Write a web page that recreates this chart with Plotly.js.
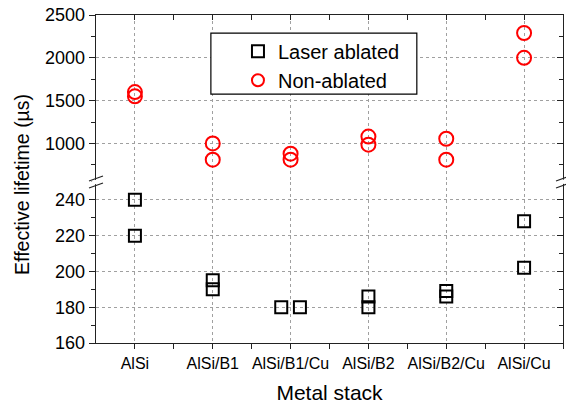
<!DOCTYPE html>
<html>
<head>
<meta charset="utf-8">
<script src="https://cdn.plot.ly/plotly-3.0.1.min.js"></script>
<style>html,body{margin:0;padding:0;background:#fff;}#chart{width:566px;height:405px;}</style>
</head>
<body>
<div id="chart"></div>
<script>
// ---- data ----
const categories = ['AlSi', 'AlSi/B1', 'AlSi/B1/Cu', 'AlSi/B2', 'AlSi/B2/Cu', 'AlSi/Cu'];
const laserCategory = ['AlSi', 'AlSi', 'AlSi/B1', 'AlSi/B1', 'AlSi/B1/Cu', 'AlSi/B1/Cu', 'AlSi/B2', 'AlSi/B2', 'AlSi/B2/Cu', 'AlSi/B2/Cu', 'AlSi/Cu', 'AlSi/Cu'];
const laserShift = [0, 0, 0, 0, -0.12, 0.12, 0, 0, 0, 0, 0, 0];
const laserValues = [240, 220, 195, 190, 180, 180, 186, 180, 189, 186, 228, 202];
const nonCategory = ['AlSi', 'AlSi', 'AlSi/B1', 'AlSi/B1', 'AlSi/B1/Cu', 'AlSi/B1/Cu', 'AlSi/B2', 'AlSi/B2', 'AlSi/B2/Cu', 'AlSi/B2/Cu', 'AlSi/Cu', 'AlSi/Cu'];
const nonValues = [1600, 1550, 1000, 810, 880, 810, 1080, 985, 1055, 810, 2290, 2000];
const lowerTicks = [160, 180, 200, 220, 240];
const upperTicks = [1000, 1500, 2000, 2500];

// ---- build ----
const catIndex = c => categories.indexOf(c);
const laserX = laserCategory.map((c, i) => catIndex(c) + laserShift[i]);
const nonX = nonCategory.map(c => catIndex(c));
const catIdx = categories.map((c, i) => i);
const halfIdx = categories.map((c, i) => i + 0.5);

const FONT = 'Liberation Sans, Arial, sans-serif';
const split = 0.491;
const xRange = [-0.5, 5.5];
const lowRange = [160, 250];
const upRange = [550, 2500];
const gridStyle = {showgrid: true, gridcolor: '#a0a0a0', griddash: 'dot', gridwidth: 1};

const traces = [
  {
    x: laserX, y: laserValues, type: 'scatter', mode: 'markers', name: 'Laser ablated',
    xaxis: 'x', yaxis: 'y',
    marker: {symbol: 'square-open', size: 12, color: '#000', line: {width: 2, color: '#000'}}
  },
  {
    x: nonX, y: nonValues, type: 'scatter', mode: 'markers', name: 'Non-ablated',
    xaxis: 'x', yaxis: 'y2',
    marker: {symbol: 'circle-open', size: 14, color: '#ff0000', line: {width: 2, color: '#ff0000'}}
  },
  // helper traces for mirror axes (no visible marks)
  {x: [], y: [], xaxis: 'x2', yaxis: 'y2', showlegend: false, hoverinfo: 'skip', type: 'scatter'},
  {x: [], y: [], xaxis: 'x', yaxis: 'y3', showlegend: false, hoverinfo: 'skip', type: 'scatter'},
  {x: [], y: [], xaxis: 'x', yaxis: 'y4', showlegend: false, hoverinfo: 'skip', type: 'scatter'}
];

const axLine = {showline: true, linecolor: '#222', linewidth: 1.3, zeroline: false};

const breakShape = (xp, dy) => ({
  type: 'line', xref: 'paper', yref: 'paper', xsizemode: 'pixel', ysizemode: 'pixel',
  xanchor: xp, yanchor: split, x0: -7, x1: 7, y0: dy - 2.5, y1: dy + 2.5,
  line: {color: '#222', width: 1.2}
});
const gapShape = (xp) => ({
  type: 'line', xref: 'paper', yref: 'paper', xsizemode: 'pixel', ysizemode: 'pixel',
  xanchor: xp, yanchor: split, x0: -7, x1: 7, y0: -2.5, y1: 2.5,
  line: {color: '#fff', width: 4}
});

const layout = {
  width: 566, height: 405,
  margin: {l: 96, r: 3, t: 15, b: 62},
  paper_bgcolor: '#fff', plot_bgcolor: '#fff',
  font: {family: FONT, color: '#000'},
  showlegend: true,
  legend: {
    x: 0.304, y: 0.949, xanchor: 'left', yanchor: 'top',
    bgcolor: 'rgba(0,0,0,0)', borderwidth: 0,
    font: {family: FONT, size: 20, color: '#000'},
    itemsizing: 'constant', tracegroupgap: 0
  },
  xaxis: Object.assign({}, axLine, gridStyle, {
    range: xRange, tickmode: 'array', tickvals: catIdx, ticktext: categories,
    ticks: 'outside', ticklen: 5, tickcolor: '#222', tickwidth: 1,
    minor: {tickvals: halfIdx, ticks: 'outside', ticklen: 5, tickcolor: '#222', showgrid: false},
    tickfont: {family: FONT, size: 16, color: '#000'},
    title: {text: 'Metal stack', font: {family: FONT, size: 21, color: '#000'}, standoff: 14},
    anchor: 'y'
  }),
  xaxis2: Object.assign({}, axLine, {
    overlaying: 'x', side: 'top', anchor: 'y2', range: xRange,
    tickmode: 'array', tickvals: catIdx, showticklabels: false, showgrid: false,
    ticks: 'inside', ticklen: 5, tickcolor: '#222',
    minor: {tickvals: halfIdx, ticks: 'inside', ticklen: 5, tickcolor: '#222'}
  }),
  yaxis: Object.assign({}, axLine, gridStyle, {
    domain: [0, split], range: lowRange, tickmode: 'array', tickvals: lowerTicks,
    ticks: 'outside', ticklen: 6, tickcolor: '#222',
    minor: {dtick: 10, tick0: 160, ticks: 'outside', ticklen: 4, tickcolor: '#222', showgrid: false},
    tickfont: {family: FONT, size: 18, color: '#000'}, anchor: 'x'
  }),
  yaxis2: Object.assign({}, axLine, gridStyle, {
    domain: [split, 1], range: upRange, tickmode: 'array', tickvals: upperTicks,
    ticks: 'outside', ticklen: 6, tickcolor: '#222',
    minor: {dtick: 250, tick0: 500, ticks: 'outside', ticklen: 4, tickcolor: '#222', showgrid: false},
    tickfont: {family: FONT, size: 18, color: '#000'}, anchor: 'x'
  }),
  yaxis3: Object.assign({}, axLine, {
    overlaying: 'y', side: 'right', anchor: 'x', range: lowRange,
    tickmode: 'array', tickvals: lowerTicks, showticklabels: false, showgrid: false,
    ticks: 'inside', ticklen: 6, tickcolor: '#222',
    minor: {dtick: 10, tick0: 160, ticks: 'inside', ticklen: 4, tickcolor: '#222'}
  }),
  yaxis4: Object.assign({}, axLine, {
    overlaying: 'y2', side: 'right', anchor: 'x', range: upRange,
    tickmode: 'array', tickvals: upperTicks, showticklabels: false, showgrid: false,
    ticks: 'inside', ticklen: 6, tickcolor: '#222',
    minor: {dtick: 250, tick0: 500, ticks: 'inside', ticklen: 4, tickcolor: '#222'}
  }),
  annotations: [{
    text: 'Effective lifetime (µs)', xref: 'paper', yref: 'paper',
    x: 0, y: 0.482, xanchor: 'center', yanchor: 'middle', xshift: -74,
    textangle: -90, showarrow: false,
    font: {family: FONT, size: 19.5, color: '#000'}
  }],
  shapes: [
    {type: 'rect', xref: 'paper', yref: 'paper', x0: 0.246, x1: 0.687, y0: 0.759, y1: 0.945,
     fillcolor: '#fff', line: {color: '#000', width: 1.2}, layer: 'above'},
    gapShape(0), breakShape(0, -3.5), breakShape(0, 3.5),
    gapShape(1), breakShape(1, -3.5), breakShape(1, 3.5)]
};

Plotly.newPlot('chart', traces, layout, {displayModeBar: false, staticPlot: true});
</script>
</body>
</html>
